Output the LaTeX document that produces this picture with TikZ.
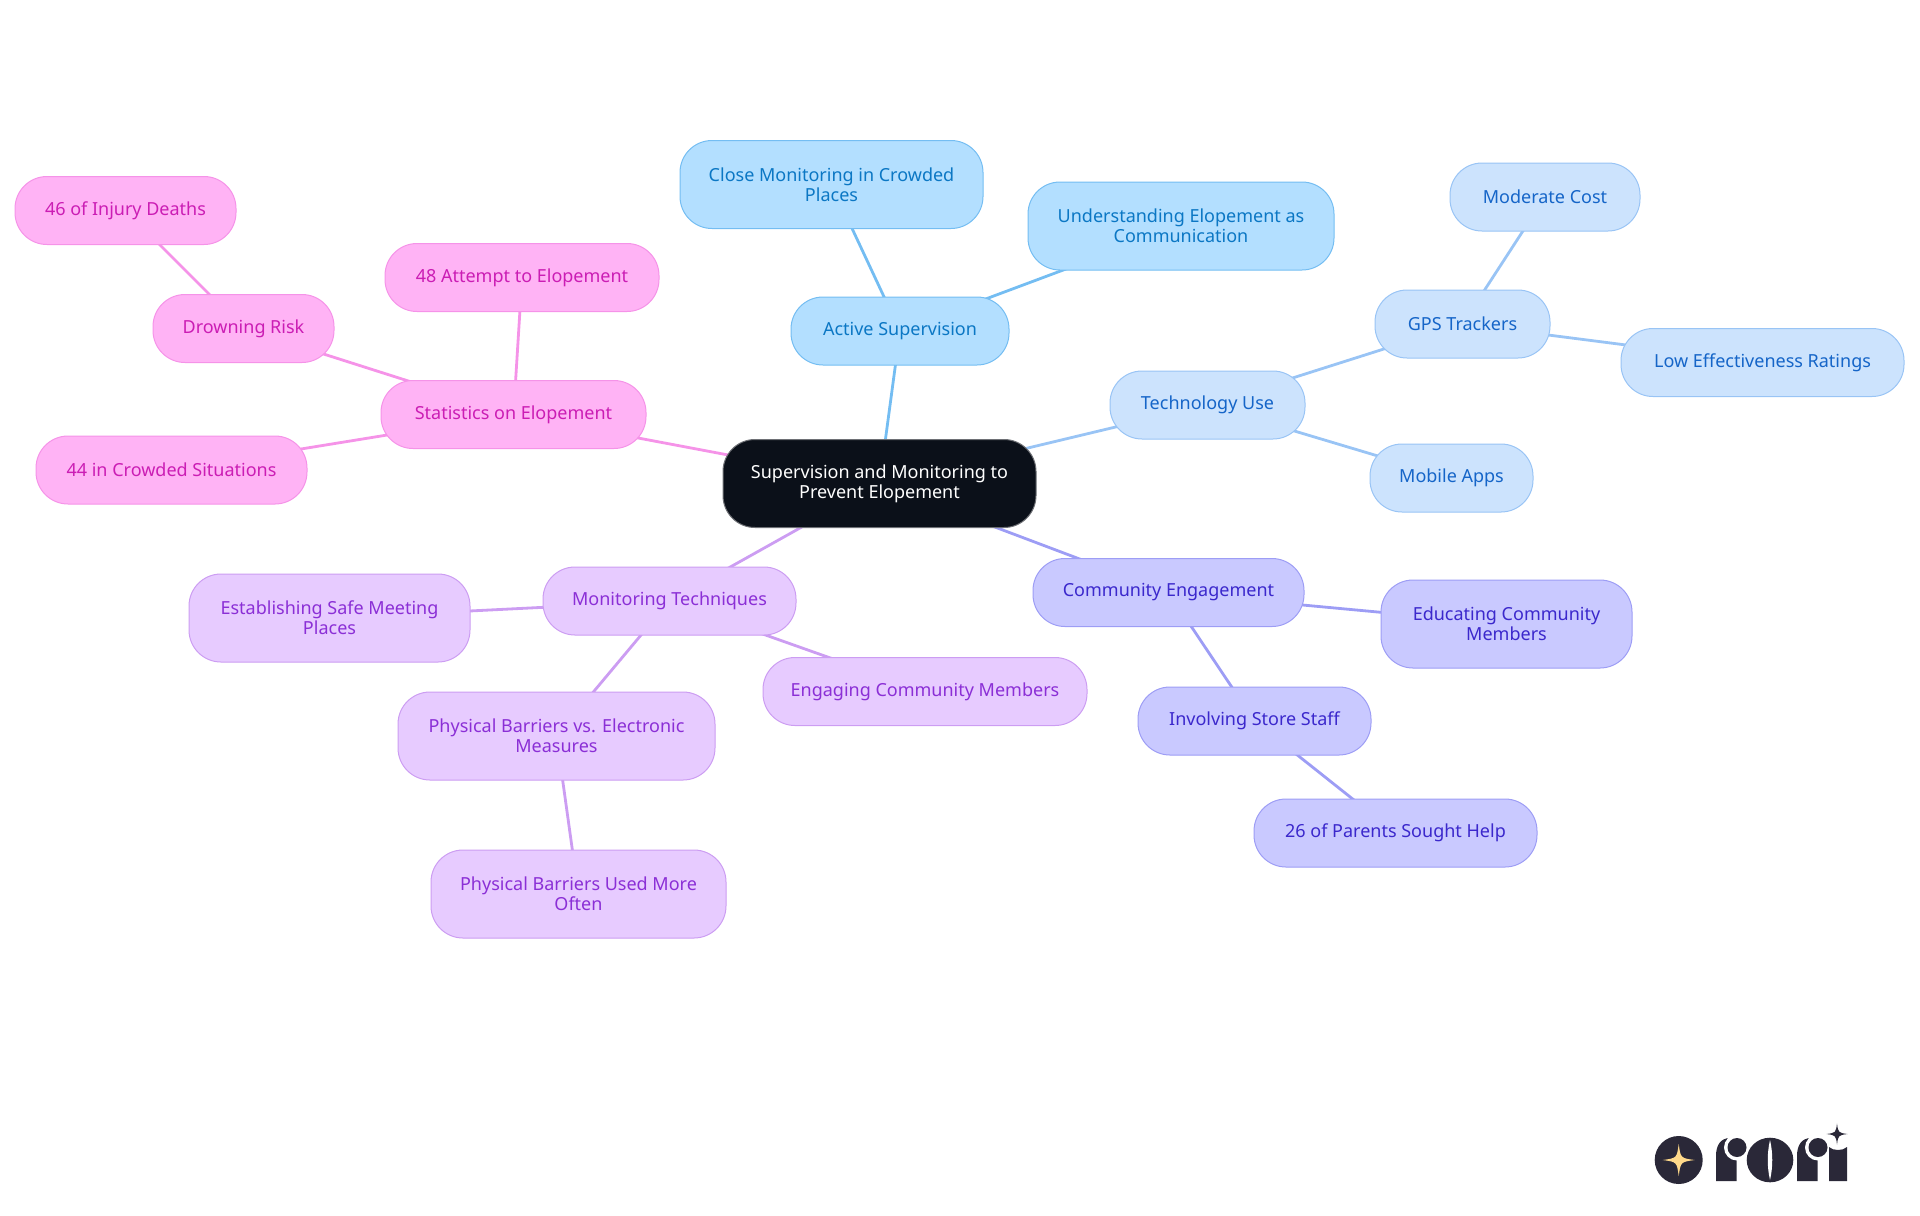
\documentclass[tikz,border=0pt]{standalone}
\usepackage{fontspec}
\setmainfont{Noto Sans}
\usetikzlibrary{backgrounds}
\definecolor{cblueF}{HTML}{B3DFFF}\definecolor{cblueS}{HTML}{74BDF2}\definecolor{cblueT}{HTML}{0B77C4}
\definecolor{cskyF}{HTML}{CCE3FD}\definecolor{cskyS}{HTML}{99C4F5}\definecolor{cskyT}{HTML}{1565C8}
\definecolor{cindF}{HTML}{C9C9FF}\definecolor{cindS}{HTML}{9D9DF5}\definecolor{cindT}{HTML}{3B28CC}
\definecolor{cvioF}{HTML}{E7CBFF}\definecolor{cvioS}{HTML}{CC9DF2}\definecolor{cvioT}{HTML}{8B2FD6}
\definecolor{cpinkF}{HTML}{FFB3F5}\definecolor{cpinkS}{HTML}{F593E8}\definecolor{cpinkT}{HTML}{CB1DB4}
\definecolor{crootF}{HTML}{0B1019}\definecolor{crootS}{HTML}{6E7075}
\definecolor{clogo}{HTML}{2A2838}\definecolor{cstar}{HTML}{FFD98A}
\tikzset{
  x=0.75pt,y=-0.75pt,
  mm/.style={rectangle,rounded corners=24pt,line width=0.75pt,inner sep=0pt,align=center,
    font=\fontsize{13.5pt}{15pt}\selectfont},
  sz/.style 2 args={minimum width=#1*0.75pt,minimum height=#2*0.75pt},
  nblue/.style={mm,draw=cblueS,fill=cblueF,text=cblueT},
  nsky/.style={mm,draw=cskyS,fill=cskyF,text=cskyT},
  nind/.style={mm,draw=cindS,fill=cindF,text=cindT},
  nvio/.style={mm,draw=cvioS,fill=cvioF,text=cvioT},
  npink/.style={mm,draw=cpinkS,fill=cpinkF,text=cpinkT},
  nroot/.style={mm,draw=crootS,fill=crootF,text=white},
  lk/.style={line width=2.1pt},
  lblue/.style={lk,cblueS},lsky/.style={lk,cskyS},lind/.style={lk,cindS},lvio/.style={lk,cvioS},lpink/.style={lk,cpinkS}
}
\newcommand{\fourstar}[4]{% centre x, y, radius, colour
  \fill[#4] (#1,#2-#3) .. controls (#1+0.12*#3,#2-0.12*#3) .. (#1+#3,#2)
    .. controls (#1+0.12*#3,#2+0.12*#3) .. (#1,#2+#3)
    .. controls (#1-0.12*#3,#2+0.12*#3) .. (#1-#3,#2)
    .. controls (#1-0.12*#3,#2-0.12*#3) .. cycle;}
\begin{document}
\begin{tikzpicture}
\useasboundingbox (0,0) rectangle (1920,1215);
% nodes
\node[nroot,sz={313}{88}] (root) at (879.5,483.5) {Supervision and Monitoring to\\Prevent Elopement};
\node[nblue,sz={218}{68}] (active) at (900,331) {Active Supervision};
\node[nblue,sz={303}{88}] (close) at (831.5,184.5) {Close Monitoring in Crowded\\Places};
\node[nblue,sz={306}{88}] (under) at (1181,226) {Understanding Elopement as\\Communication};
\node[nsky,sz={195}{68}] (tech) at (1207.5,405) {Technology Use};
\node[nsky,sz={175}{68}] (gps) at (1462.5,324) {GPS Trackers};
\node[nsky,sz={190}{68}] (cost) at (1545,197) {Moderate Cost};
\node[nsky,sz={283}{68}] (low) at (1762.5,362.5) {Low Effectiveness Ratings};
\node[nsky,sz={163}{68}] (apps) at (1451.5,478) {Mobile Apps};
\node[nind,sz={271}{68}] (comm) at (1168.5,592.5) {Community Engagement};
\node[nind,sz={251}{88}] (edu) at (1506.5,624) {Educating Community\\Members};
\node[nind,sz={233}{68}] (store) at (1254.5,721) {Involving Store Staff};
\node[nind,sz={283}{68}] (parents) at (1395.5,833) {26 of Parents Sought Help};
\node[nvio,sz={253}{68}] (mon) at (669.5,601) {Monitoring Techniques};
\node[nvio,sz={281}{88}] (safe) at (329.5,618) {Establishing Safe Meeting\\Places};
\node[nvio,sz={324}{68}] (engage) at (925,691.5) {Engaging Community Members};
\node[nvio,sz={317}{88}] (barr) at (556.5,736) {Physical Barriers vs. Electronic\\Measures};
\node[nvio,sz={295}{88}] (used) at (578.5,894) {Physical Barriers Used More\\Often};
\node[npink,sz={265}{68}] (stats) at (513.5,414.5) {Statistics on Elopement};
\node[npink,sz={274}{68}] (att) at (522,277.5) {48 Attempt to Elopement};
\node[npink,sz={181}{68}] (drown) at (243.5,328.5) {Drowning Risk};
\node[npink,sz={221}{68}] (inj) at (125.5,210.5) {46 of Injury Deaths};
\node[npink,sz={271}{68}] (crowd) at (171.5,470) {44 in Crowded Situations};
% connectors, behind the nodes
\begin{scope}[on background layer]
\draw[lblue] (root.center) -- (active.center);
\draw[lblue] (active.center) -- (close.center);
\draw[lblue] (active.center) -- (under.center);
\draw[lsky] (root.center) -- (tech.center);
\draw[lsky] (tech.center) -- (gps.center);
\draw[lsky] (tech.center) -- (apps.center);
\draw[lsky] (gps.center) -- (cost.center);
\draw[lsky] (gps.center) -- (low.center);
\draw[lind] (root.center) -- (comm.center);
\draw[lind] (comm.center) -- (edu.center);
\draw[lind] (comm.center) -- (store.center);
\draw[lind] (store.center) -- (parents.center);
\draw[lvio] (root.center) -- (mon.center);
\draw[lvio] (mon.center) -- (safe.center);
\draw[lvio] (mon.center) -- (engage.center);
\draw[lvio] (mon.center) -- (barr.center);
\draw[lvio] (barr.center) -- (used.center);
\draw[lpink] (root.center) -- (stats.center);
\draw[lpink] (stats.center) -- (att.center);
\draw[lpink] (stats.center) -- (drown.center);
\draw[lpink] (stats.center) -- (crowd.center);
\draw[lpink] (drown.center) -- (inj.center);
\end{scope}
% logo
\fill[clogo] (1678.7,1160) circle[radius=24*0.75pt];
\fourstar{1678.7}{1160}{16}{cstar}
% first r
\fill[clogo] (1716,1181) -- (1716,1156) .. controls (1716,1146) and (1720,1138) .. (1730,1138) -- (1736.5,1160) -- (1736.5,1181) -- cycle;
\fill[white] (1737,1147.5) circle[radius=13*0.75pt];
\fill[clogo] (1737,1147.5) circle[radius=9.5*0.75pt];
% o
\fill[clogo] (1770,1160) ellipse[x radius=23.3*0.75pt,y radius=22.3*0.75pt];
\fill[white] (1770,1140) .. controls (1767,1153) and (1767,1167) .. (1770,1180) .. controls (1773,1167) and (1773,1153) .. (1770,1140) -- cycle;
% second r
\fill[clogo] (1797,1181) -- (1797,1156) .. controls (1797,1146) and (1801,1138) .. (1811,1138) -- (1817.5,1160) -- (1817.5,1181) -- cycle;
\fill[white] (1818,1147.5) circle[radius=13*0.75pt];
\fill[clogo] (1818,1147.5) circle[radius=9.5*0.75pt];
% i
\fill[clogo] (1829,1181) -- (1829,1147) .. controls (1833,1151) and (1843,1151) .. (1847,1147) -- (1847,1181) -- cycle;
\fourstar{1837}{1134}{10.5}{clogo}
\end{tikzpicture}
\end{document}
